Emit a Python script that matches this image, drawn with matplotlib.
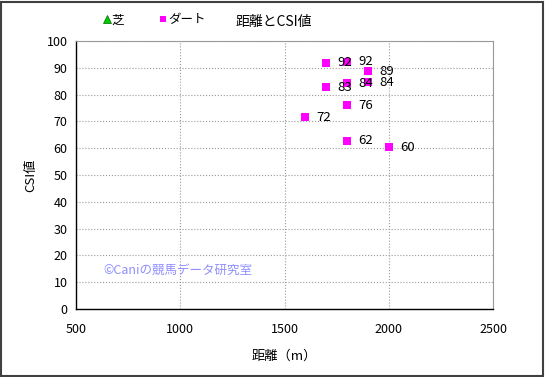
import matplotlib

matplotlib.use("Agg")

import matplotlib.pyplot as plt
from matplotlib.patches import Rectangle

plt.rcParams["font.family"] = ["Noto Sans CJK JP", "DejaVu Sans"]

# data
turf_dist = []
turf_csi = []
dirt_dist = [1700, 1800, 1900, 1700, 1800, 1900, 1800, 1600, 1800, 2000]
dirt_csi = [91.9, 92.2, 88.8, 82.8, 84.2, 84.6, 76.1, 71.6, 62.8, 60.4]
dirt_labels = ["92", "92", "89", "83", "84", "84", "76", "72", "62", "60"]

x_ticks = [500, 1000, 1500, 2000, 2500]
y_ticks = list(range(0, 101, 10))

W, H = 545, 377
fig = plt.figure(figsize=(W / 100, H / 100), dpi=100)
ax = fig.add_axes([76 / W, 1 - 309 / H, (493 - 76) / W, (309 - 41) / H])

ax.plot(turf_dist, turf_csi, linestyle="none", marker="^", markersize=6,
        color="#00cc00", markeredgecolor="#006600", markeredgewidth=0.5, label="芝")
ax.plot(dirt_dist, dirt_csi, linestyle="none", marker="s", markersize=5.5,
        color="#ff00ff", markeredgewidth=0, label="ダート")

for x, y, t in zip(dirt_dist, dirt_csi, dirt_labels):
    ax.annotate(t, (x, y), xytext=(8, 0), textcoords="offset points",
                ha="left", va="center", fontsize=9.5, color="black")

ax.set_xlim(500, 2500)
ax.set_ylim(0, 100)
ax.set_xticks(x_ticks)
ax.set_yticks(y_ticks)
ax.tick_params(labelsize=9, length=0)
ax.tick_params(axis="x", pad=10)
ax.tick_params(axis="y", pad=6)
ax.grid(True, linestyle=":", color="#999999", linewidth=0.8)
ax.set_axisbelow(True)
for side in ["top", "right"]:
    ax.spines[side].set_color("#999999")
    ax.spines[side].set_linewidth(0.8)
for side in ["left", "bottom"]:
    ax.spines[side].set_color("black")
    ax.spines[side].set_linewidth(1.0)

ax.set_xlabel("距離（m）", fontsize=9.5, labelpad=10)
ax.set_ylabel("CSI値", fontsize=9.5, labelpad=7)

fig.text(274 / W, 1 - 22 / H, "距離とCSI値", ha="center", va="center", fontsize=10)
fig.legend(loc="center left", bbox_to_anchor=(98 / W, 1 - 20 / H), ncol=2,
           frameon=False, fontsize=9, handlelength=0.6, handletextpad=0.1,
           columnspacing=2.8, borderaxespad=0, markerscale=0.85)

ax.text((103 - 76) / (493 - 76), 14.5, "©Caniの競馬データ研究室",
        transform=ax.get_yaxis_transform(),
        fontsize=9, color="#8f8fff", ha="left", va="center")

fig.patches.append(Rectangle((1 / W, 1 / H), 1 - 3 / W, 1 - 3 / H, transform=fig.transFigure,
                             fill=False, edgecolor="#404040", linewidth=1.5))

fig.savefig("out.png", dpi=100)
